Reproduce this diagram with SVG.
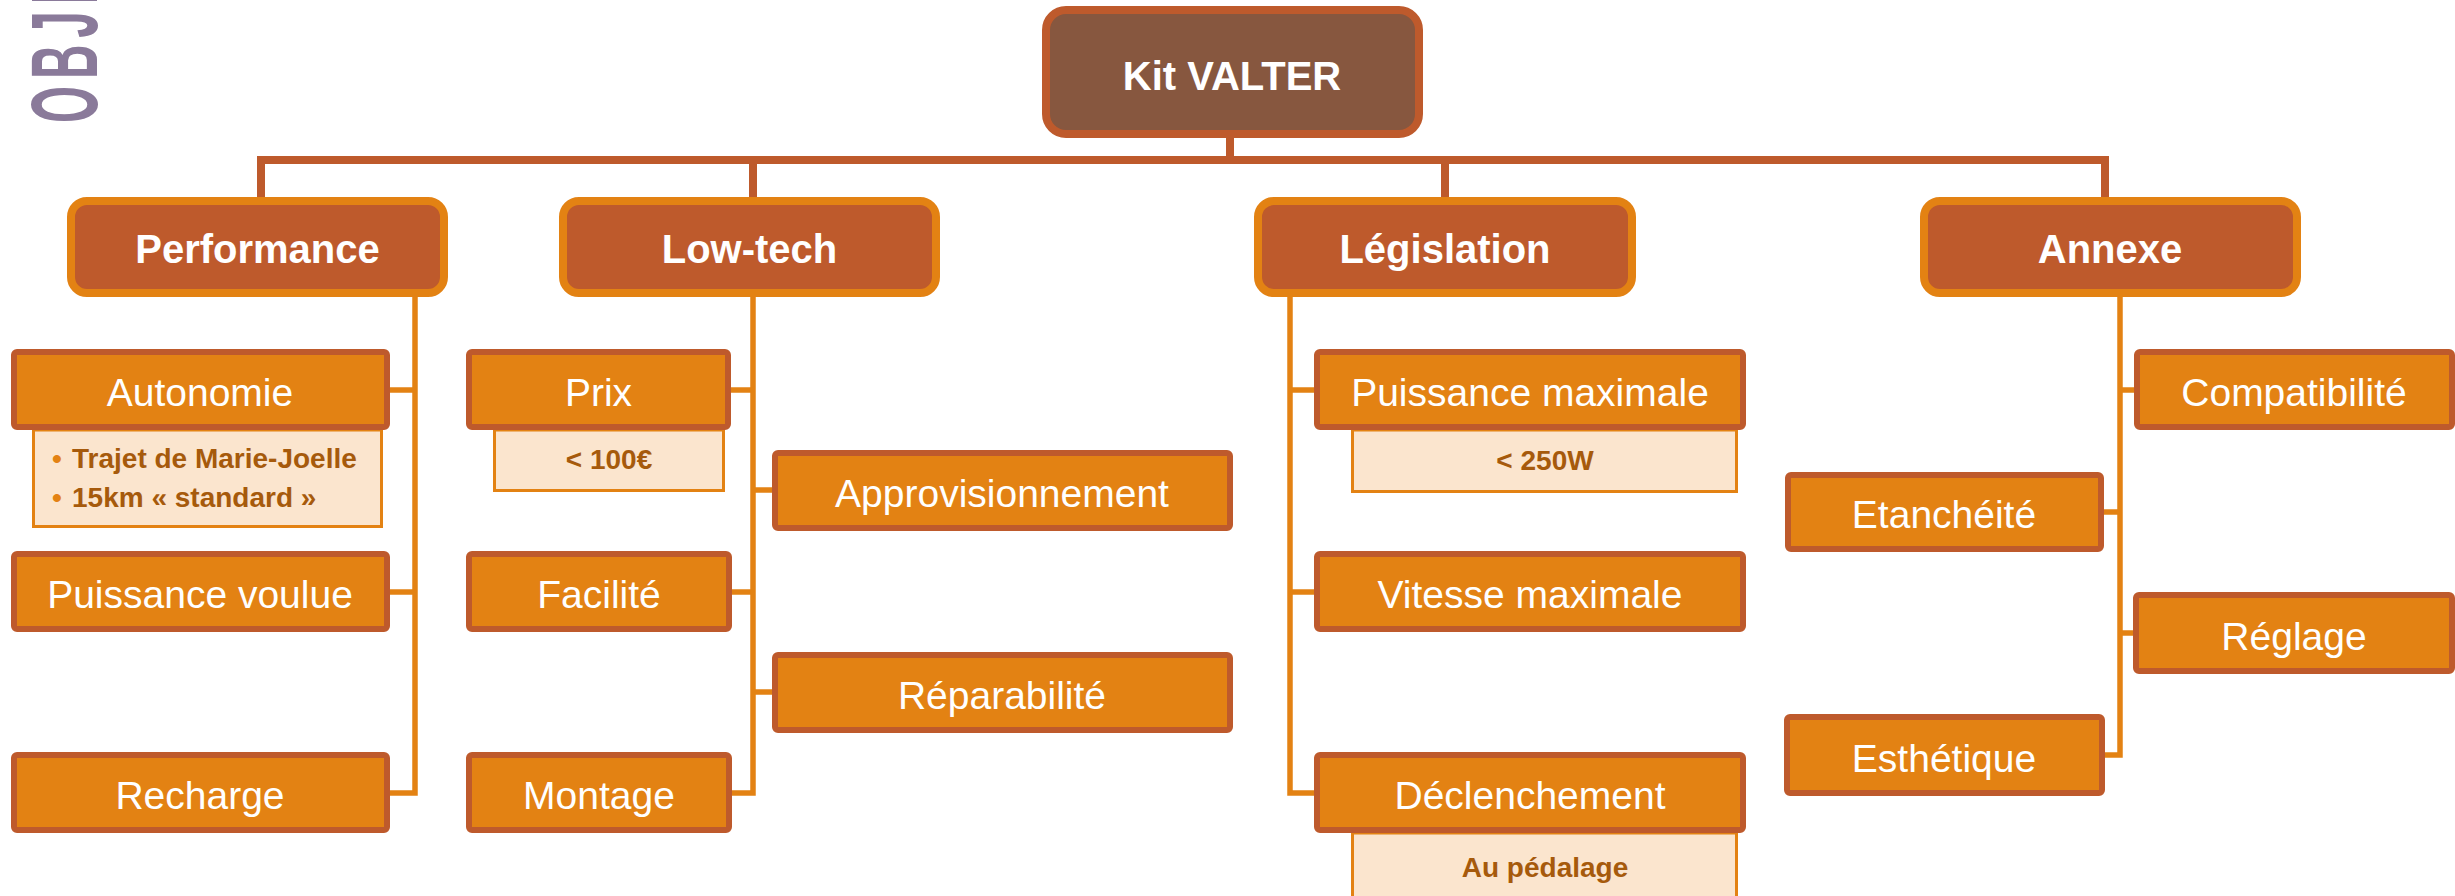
<svg xmlns="http://www.w3.org/2000/svg" width="2455" height="896" viewBox="0 0 2455 896">
<style>
  text { font-family: "Liberation Sans", Arial, sans-serif; }
  .root rect { fill: #87573F; stroke: #BE5A2C; stroke-width: 8; }
  .l1 rect { fill: #BE5A2C; stroke: #E38213; stroke-width: 8; }
  .l2 rect.main { fill: #E38213; stroke: #BE5A2C; stroke-width: 6; }
  .l2 rect.sub { fill: #FBE5CE; stroke: #E38213; stroke-width: 3; }
  .t0 { fill: #FFFFFF; font-weight: bold; font-size: 40px; text-anchor: middle; }
  .t1 { fill: #FFFFFF; font-weight: bold; font-size: 40px; text-anchor: middle; }
  .t2 { fill: #FFFFFF; font-size: 39px; text-anchor: middle; }
  .ts { fill: #A65A0C; font-weight: bold; font-size: 28px; }
  .tsc { text-anchor: middle; }
  .bul { fill: #E38213; font-size: 28px; font-weight: bold; }
  .c-top { fill: none; stroke: #BE5A2C; stroke-width: 8; }
  .c-sub { fill: none; stroke: #E38213; stroke-width: 5.5; }
</style>

<text transform="translate(97,123) rotate(-90) scale(0.5,1)" x="0" y="0" style="font-family: 'Liberation Sans', Arial, sans-serif; font-size: 95px; font-weight: bold; fill: #8A7A9A; letter-spacing: 14px;">OBJE</text>

<g id="connectors">
  <path class="c-top" d="M1230,134 V160"/>
  <path class="c-top" d="M261,201 V160 H2105 V201"/>
  <path class="c-top" d="M753,160 V201"/>
  <path class="c-top" d="M1445,160 V201"/>

  <path class="c-sub" d="M415,293 V793 H388"/>
  <path class="c-sub" d="M388,390 H415"/>
  <path class="c-sub" d="M388,592 H415"/>

  <path class="c-sub" d="M753,293 V793 H729"/>
  <path class="c-sub" d="M729,390 H753"/>
  <path class="c-sub" d="M753,490 H775"/>
  <path class="c-sub" d="M729,592 H753"/>
  <path class="c-sub" d="M753,692 H775"/>

  <path class="c-sub" d="M1290,293 V793 H1317"/>
  <path class="c-sub" d="M1290,390 H1317"/>
  <path class="c-sub" d="M1290,592 H1317"/>

  <path class="c-sub" d="M2120,293 V755 H2102"/>
  <path class="c-sub" d="M2120,390 H2137"/>
  <path class="c-sub" d="M2101,512 H2120"/>
  <path class="c-sub" d="M2120,633 H2136"/>
</g>

<g id="kit-valter" class="root">
  <rect x="1046" y="10" width="373" height="124" rx="20"/>
  <text class="t0" x="1232" y="90">Kit VALTER</text>
</g>

<g id="performance" class="l1">
  <rect x="71" y="201" width="373" height="92" rx="16"/>
  <text class="t1" x="257.5" y="263">Performance</text>
</g>
<g id="low-tech" class="l1">
  <rect x="563" y="201" width="373" height="92" rx="16"/>
  <text class="t1" x="749.5" y="263">Low-tech</text>
</g>
<g id="legislation" class="l1">
  <rect x="1258" y="201" width="374" height="92" rx="16"/>
  <text class="t1" x="1445" y="263">Législation</text>
</g>
<g id="annexe" class="l1">
  <rect x="1924" y="201" width="373" height="92" rx="16"/>
  <text class="t1" x="2110" y="263">Annexe</text>
</g>

<g id="autonomie" class="l2">
  <rect class="sub" x="33.5" y="430" width="348" height="96.5"/>
  <rect class="main" x="14" y="352" width="373" height="75" rx="3"/>
  <text class="t2" x="200" y="406">Autonomie</text>
  <text class="bul" x="52" y="468">•</text>
  <text class="ts" x="72" y="468">Trajet de Marie-Joelle</text>
  <text class="bul" x="52" y="507">•</text>
  <text class="ts" x="72" y="507">15km « standard »</text>
</g>
<g id="puissance-voulue" class="l2">
  <rect class="main" x="14" y="554" width="373" height="75" rx="3"/>
  <text class="t2" x="200" y="608">Puissance voulue</text>
</g>
<g id="recharge" class="l2">
  <rect class="main" x="14" y="755" width="373" height="75" rx="3"/>
  <text class="t2" x="200" y="809">Recharge</text>
</g>

<g id="prix" class="l2">
  <rect class="sub" x="494.5" y="430" width="229" height="60.5"/>
  <rect class="main" x="469" y="352" width="259" height="75" rx="3"/>
  <text class="t2" x="598.5" y="406">Prix</text>
  <text class="ts tsc" x="609" y="469">&lt; 100€</text>
</g>
<g id="approvisionnement" class="l2">
  <rect class="main" x="775" y="453" width="455" height="75" rx="3"/>
  <text class="t2" x="1002" y="507">Approvisionnement</text>
</g>
<g id="facilite" class="l2">
  <rect class="main" x="469" y="554" width="260" height="75" rx="3"/>
  <text class="t2" x="599" y="608">Facilité</text>
</g>
<g id="reparabilite" class="l2">
  <rect class="main" x="775" y="655" width="455" height="75" rx="3"/>
  <text class="t2" x="1002" y="709">Réparabilité</text>
</g>
<g id="montage" class="l2">
  <rect class="main" x="469" y="755" width="260" height="75" rx="3"/>
  <text class="t2" x="599" y="809">Montage</text>
</g>

<g id="puissance-maximale" class="l2">
  <rect class="sub" x="1352.5" y="430" width="384" height="61.5"/>
  <rect class="main" x="1317" y="352" width="426" height="75" rx="3"/>
  <text class="t2" x="1530" y="406">Puissance maximale</text>
  <text class="ts tsc" x="1545" y="470">&lt; 250W</text>
</g>
<g id="vitesse-maximale" class="l2">
  <rect class="main" x="1317" y="554" width="426" height="75" rx="3"/>
  <text class="t2" x="1530" y="608">Vitesse maximale</text>
</g>
<g id="declenchement" class="l2">
  <rect class="sub" x="1352.5" y="833" width="384" height="80"/>
  <rect class="main" x="1317" y="755" width="426" height="75" rx="3"/>
  <text class="t2" x="1530" y="809">Déclenchement</text>
  <text class="ts tsc" x="1545" y="877">Au pédalage</text>
</g>

<g id="compatibilite" class="l2">
  <rect class="main" x="2137" y="352" width="315" height="75" rx="3"/>
  <text class="t2" x="2294" y="406">Compatibilité</text>
</g>
<g id="etancheite" class="l2">
  <rect class="main" x="1788" y="475" width="313" height="74" rx="3"/>
  <text class="t2" x="1944" y="528">Etanchéité</text>
</g>
<g id="reglage" class="l2">
  <rect class="main" x="2136" y="595" width="316" height="76" rx="3"/>
  <text class="t2" x="2294" y="650">Réglage</text>
</g>
<g id="esthetique" class="l2">
  <rect class="main" x="1787" y="717" width="315" height="76" rx="3"/>
  <text class="t2" x="1944" y="772">Esthétique</text>
</g>
</svg>
